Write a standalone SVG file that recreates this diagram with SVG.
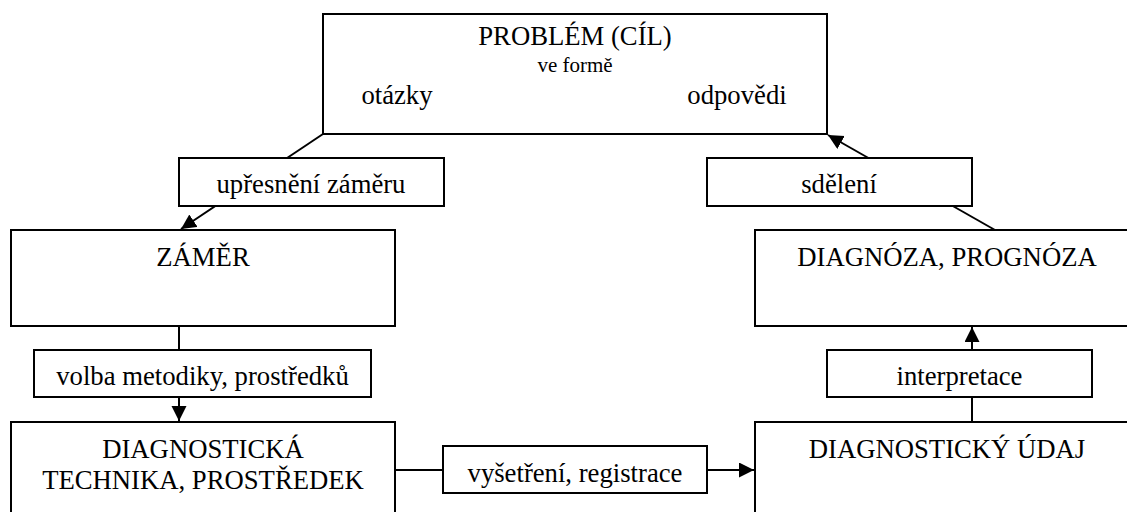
<svg xmlns="http://www.w3.org/2000/svg" width="1127" height="512" viewBox="0 0 1127 512">
<style>
.box{fill:#fff;stroke:#000;stroke-width:2}
.lbl{fill:#fff;stroke:#000;stroke-width:2}
.t{font-size:26.7px;fill:#000;text-anchor:middle}
.s{font-size:21px}
.c{fill:none;stroke:#000;stroke-width:2}
</style>
<defs>
<marker id="ah" markerUnits="userSpaceOnUse" markerWidth="16" markerHeight="16" refX="15" refY="7.5" orient="auto">
<path d="M0,0 L15,7.5 L0,15 z" fill="#000"/>
</marker>
</defs>
<rect width="1127" height="512" fill="#fff"/>
<g id="connectors">
<line class="c" x1="323" y1="134" x2="181" y2="229" marker-end="url(#ah)"/>
<line class="c" x1="995" y1="230" x2="828" y2="135" marker-end="url(#ah)"/>
<line class="c" x1="179" y1="326" x2="179" y2="421" marker-end="url(#ah)"/>
<line class="c" x1="972" y1="422" x2="972" y2="327" marker-end="url(#ah)"/>
<line class="c" x1="395" y1="470" x2="754" y2="470" marker-end="url(#ah)"/>
</g>
<g font-family="Liberation Serif, Times New Roman, serif">
<g id="problem">
<rect class="box" x="323" y="14" width="504" height="120"/>
<text class="t" x="575" y="45">PROBLÉM (CÍL)</text>
<text class="t s" x="575" y="72">ve formě</text>
<text class="t" x="397" y="104">otázky</text>
<text class="t" x="737" y="104">odpovědi</text>
</g>
<g id="label-upresneni">
<rect class="lbl" x="179" y="158" width="265" height="48"/>
<text class="t" x="311" y="193">upřesnění záměru</text>
</g>
<g id="label-sdeleni">
<rect class="lbl" x="707" y="158" width="265" height="48"/>
<text class="t" x="839" y="193">sdělení</text>
</g>
<g id="zamer">
<rect class="box" x="11" y="230" width="384" height="96"/>
<text class="t" x="203" y="266">ZÁMĚR</text>
</g>
<g id="diagnoza">
<rect class="box" x="755" y="230" width="385" height="96"/>
<text class="t" x="947" y="266">DIAGNÓZA, PROGNÓZA</text>
</g>
<g id="label-volba">
<rect class="lbl" x="34" y="350" width="337" height="47"/>
<text class="t" x="202.5" y="385">volba metodiky, prostředků</text>
</g>
<g id="label-interpretace">
<rect class="lbl" x="827" y="350" width="265" height="47"/>
<text class="t" x="959.5" y="385">interpretace</text>
</g>
<g id="technika">
<rect class="box" x="11" y="422" width="384" height="110"/>
<text class="t" x="203" y="458">DIAGNOSTICKÁ</text>
<text class="t" x="203" y="489">TECHNIKA, PROSTŘEDEK</text>
</g>
<g id="label-vysetreni">
<rect class="lbl" x="443" y="446" width="264" height="47"/>
<text class="t" x="575" y="482">vyšetření, registrace</text>
</g>
<g id="udaj">
<rect class="box" x="755" y="422" width="385" height="110"/>
<text class="t" x="947" y="458">DIAGNOSTICKÝ ÚDAJ</text>
</g>
</g>
</svg>
